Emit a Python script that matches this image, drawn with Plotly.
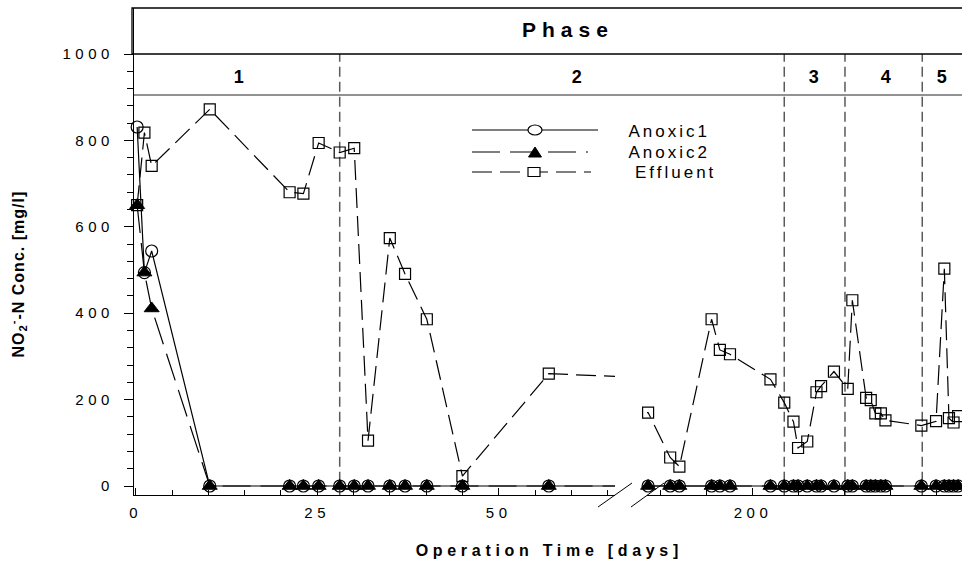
import plotly.graph_objects as go

# ---------------- data ----------------
days = [0.2, 1.2, 2.2, 10.2, 21.2, 23.1, 25.2, 28.1, 30.1, 32.0, 35.0, 37.1, 40.1, 45.0, 56.9,
        188.6, 191.0, 192.0, 195.5, 196.4, 197.5, 201.9, 203.4, 204.4, 204.9, 205.9, 206.9,
        207.4, 208.8, 210.3, 210.8, 212.3, 212.8, 213.3, 213.9, 214.4, 218.3, 219.9, 220.8,
        221.3, 221.8, 222.3]
effluent = [650, 818, 741, 872, 680, 677, 794, 772, 782, 105, 574, 491, 386, 23, 260,
            170, 66, 45, 386, 315, 305, 247, 193, 149, 88, 103, 217, 231, 265, 225, 430,
            204, 199, 168, 168, 152, 140, 150, 503, 157, 147, 162]
anoxic1 = [831, 494, 544] + [0] * (len(days) - 3)
anoxic2 = [650, 494, 411] + [0] * (len(days) - 3)

phase_bounds_left = [28.1]
phase_bounds_right = [203.4, 210.0, 218.4]
phase_labels = ["1", "2", "3", "4", "5"]
x_ticks_left = [0, 25, 50]
x_ticks_right = [200]
y_ticks = [0, 200, 400, 600, 800, 1000]

FONT = "Arial, Liberation Sans, sans-serif"
W, H = 962, 565
L, R, T, B = 134, 0, 8, 70
PW, PH = W - L - R, H - T - B


def px(x):
    return (x - L) / PW


def py(y):
    return (H - B - y) / PH


fig = go.Figure()

series = [
    ("Effluent", effluent, dict(symbol="square-open", size=11, color="black", line=dict(width=1.2, color="black")),
     dict(color="black", width=1.2, dash="20px,8px")),
    ("Anoxic1", anoxic1, dict(symbol="circle-open", size=12, color="black", line=dict(width=1.2, color="black")),
     dict(color="black", width=1.2)),
    ("Anoxic2", anoxic2, dict(symbol="triangle-up", size=13, color="black", line=dict(width=1, color="black")),
     dict(color="black", width=1.2, dash="28px,10px")),
]
for xa in ["x", "x2"]:
    for name, vals, mk, ln in series:
        fig.add_trace(go.Scatter(x=days, y=vals, mode="lines+markers", name=name, xaxis=xa, yaxis="y",
                                 marker=mk, line=ln, cliponaxis=False, showlegend=False))

ax_common = dict(showline=True, linecolor="black", linewidth=1.3, showgrid=False, zeroline=False,
                 tickfont=dict(family=FONT, size=15, color="black"), tickcolor="black")

fig.update_layout(
    width=W, height=H, margin=dict(l=L, r=R, t=T, b=B),
    paper_bgcolor="white", plot_bgcolor="white",
    font=dict(family=FONT, color="black"),
    xaxis=dict(domain=[0, px(615)], range=[-0.234, 66.02], tickmode="array", tickvals=x_ticks_left,
               ticks="inside", ticklen=7, tickwidth=1.2, anchor="y", ticklabelstandoff=4,
               minor=dict(dtick=5, tick0=0, ticks="inside", ticklen=5, tickcolor="black", tickwidth=1),
               **ax_common),
    xaxis2=dict(domain=[px(647), 1], range=[188.48, 222.72], tickmode="array", tickvals=x_ticks_right,
                ticks="inside", ticklen=7, tickwidth=1.2, anchor="y", ticklabelstandoff=4,
                minor=dict(dtick=5, tick0=0, ticks="inside", ticklen=5, tickcolor="black", tickwidth=1),
                **ax_common),
    yaxis=dict(domain=[0, 1], range=[-20.8, 1106.5], tickmode="array", tickvals=y_ticks,
               ticks="outside", ticklen=9, tickwidth=1.2, anchor="x", ticklabelstandoff=7,
               minor=dict(tickmode="array", tickvals=[v for v in range(40, 1000, 40) if v % 200 != 0],
                          ticks="outside", ticklen=6, tickcolor="black", tickwidth=1),
               **ax_common),
)

shapes = []
# header box (Phase) and phase band
shapes.append(dict(type="rect", xref="paper", yref="paper", x0=px(132), x1=1.02, y0=py(54), y1=py(8),
                   line=dict(color="black", width=1.3), fillcolor="rgba(0,0,0,0)", layer="above"))
shapes.append(dict(type="line", xref="paper", yref="y", x0=0, x1=1.02, y0=905, y1=905,
                   line=dict(color="#6e6e6e", width=1.6), layer="above"))
# phase boundaries
for d in phase_bounds_left:
    shapes.append(dict(type="line", xref="x", yref="y", x0=d, x1=d, y0=-25, y1=1000,
                       line=dict(color="#5a5a5a", width=1.5, dash="10px,5px"), layer="below"))
for d in phase_bounds_right:
    shapes.append(dict(type="line", xref="x2", yref="y", x0=d, x1=d, y0=-25, y1=1000,
                       line=dict(color="#5a5a5a", width=1.5, dash="10px,5px"), layer="below"))
# axis break marks
for (x0, y0, x1, y1) in [(598, 507, 632, 483), (631, 507, 664, 483)]:
    shapes.append(dict(type="line", xref="paper", yref="paper", x0=px(x0), y0=py(y0), x1=px(x1), y1=py(y1),
                       line=dict(color="black", width=1)))
# manual legend
leg = [("Anoxic1", 130, 472, 598, None), ("Anoxic2", 152, 472, 588, "28px,10px"), ("Effluent", 172, 472, 591, "20px,8px")]
for name, yy, xa, xb, dash in leg:
    ln = dict(color="black", width=1.2)
    if dash:
        ln["dash"] = dash
    shapes.append(dict(type="line", xref="paper", yref="paper", x0=px(xa), x1=px(xb), y0=py(yy), y1=py(yy), line=ln))
shapes.append(dict(type="circle", xref="paper", yref="paper", x0=px(528), x1=px(542), y0=py(135), y1=py(125),
                   line=dict(color="black", width=1.2), fillcolor="white"))
shapes.append(dict(type="path", xref="paper", yref="paper",
                   path=f"M {px(528.5)} {py(157)} L {px(541.5)} {py(157)} L {px(535)} {py(147)} Z",
                   line=dict(color="black", width=1), fillcolor="black"))
shapes.append(dict(type="rect", xref="paper", yref="paper", x0=px(528), x1=px(540), y0=py(176.5), y1=py(167.5),
                   line=dict(color="black", width=1.2), fillcolor="white"))
fig.update_layout(shapes=shapes)

ann = []
ann.append(dict(text="Phase", x=px(568), y=py(29.5), font=dict(size=21, weight="bold")))
for lab, xx in zip(phase_labels, [241, 579, 816, 888, 944]):
    ann.append(dict(text=lab, x=px(xx), y=py(77), font=dict(size=18, weight="bold")))
ann.append(dict(text="Operation Time [days]", x=px(549), y=py(550), font=dict(size=16, weight="bold")))
ann.append(dict(text="NO<sub>2</sub><sup>-</sup>-N Conc. [mg/l]", x=px(18), y=py(274), textangle=-90,
                font=dict(size=16, weight="bold")))
for name, yy, xx in [("Anoxic1", 131, 637), ("Anoxic2", 152, 637), ("Effluent", 173, 645)]:
    ann.append(dict(text=name, x=px(xx), y=py(yy), xanchor="left", font=dict(size=17)))
for a in ann:
    a.setdefault("xanchor", "center")
    a.update(xref="paper", yref="paper", yanchor="middle", showarrow=False)
    a["font"].update(family=FONT, color="black")
fig.update_layout(annotations=ann)

post = """
var gd = document.getElementById('{plot_id}');
gd.querySelectorAll('text').forEach(function(t){
  var s = t.textContent;
  var ls = '4.5px';
  if (s === 'Phase') ls = '6px';
  else if (s.indexOf('Conc') >= 0) ls = '1px';
  else if (s.indexOf('Anoxic') === 0 || s.indexOf('Effluent') === 0) ls = '3px';
  else if (s.indexOf('Operation') >= 0) ls = '4.7px';
  t.style.letterSpacing = ls;
});
"""
fig.write_html("out.html", post_script=post)
